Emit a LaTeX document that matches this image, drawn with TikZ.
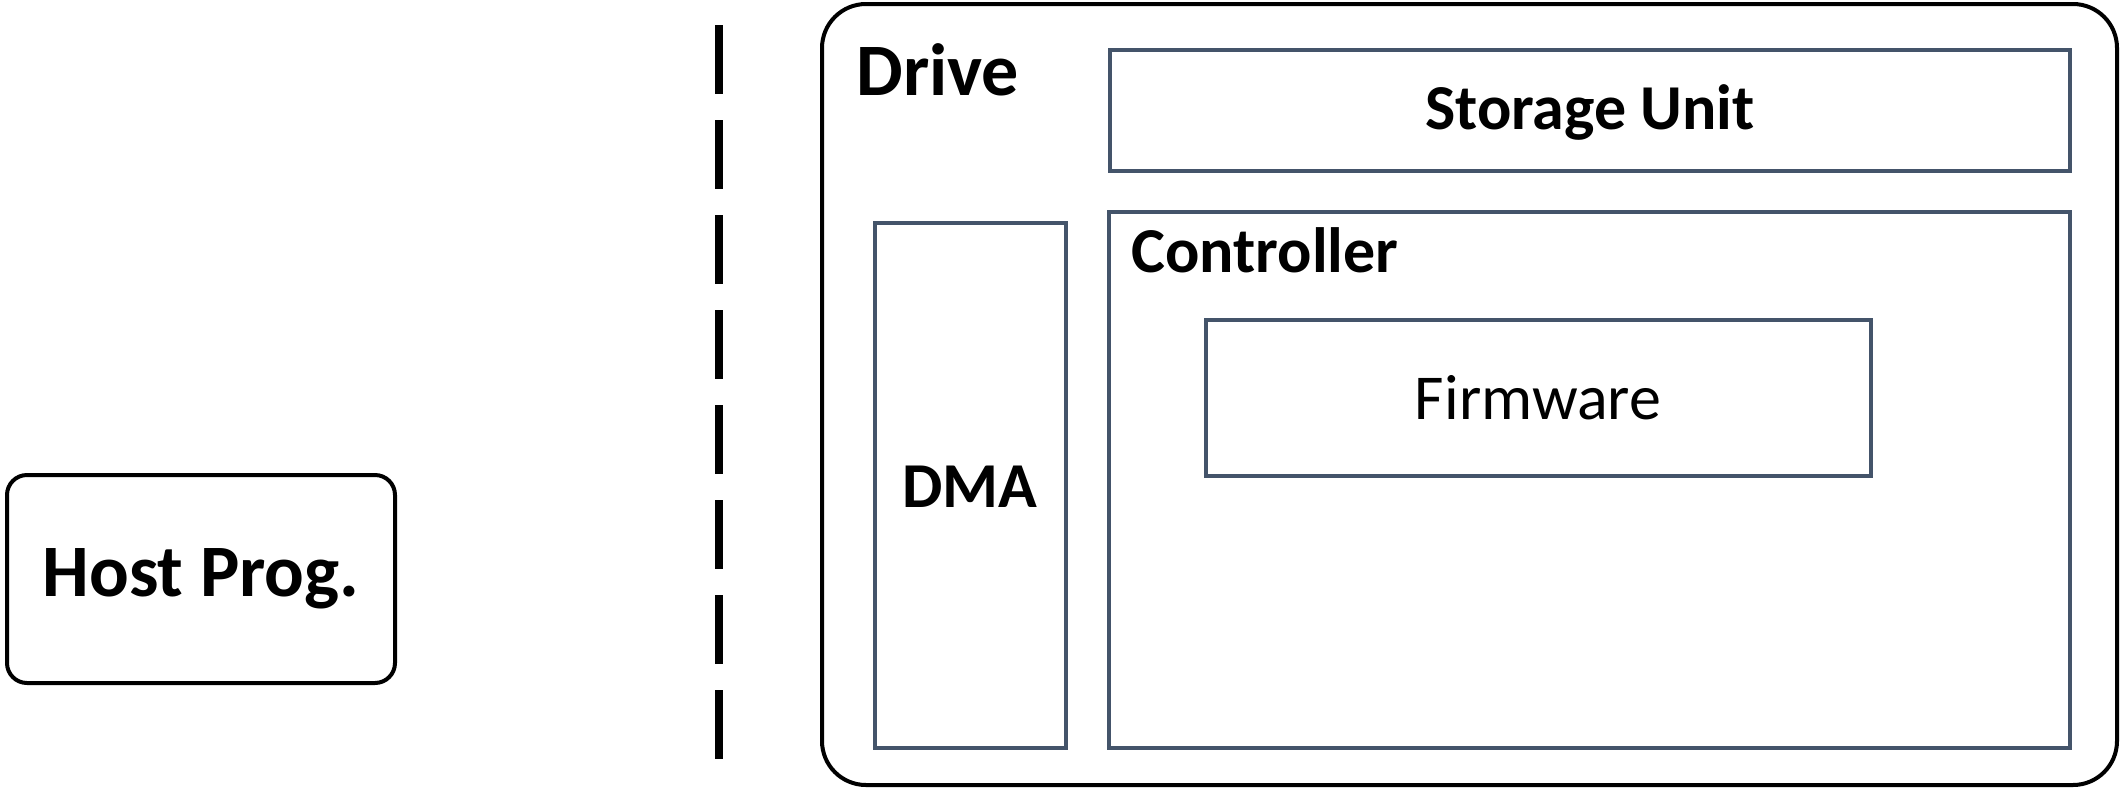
\documentclass[tikz,border=0pt]{standalone}
\usepackage{fontspec}
\setmainfont{Carlito}
\definecolor{slate}{HTML}{44546A}
\begin{document}
\begin{tikzpicture}[x=0.5pt,y=-0.5pt,
  outer/.style={draw=black,line width=2pt,rounded corners=10pt},
  inner/.style={draw=slate,line width=1.6pt},
  bigbold/.style={font=\fontsize{37}{40}\selectfont\bfseries},
  midbold/.style={font=\fontsize{32}{36}\selectfont\bfseries},
  midreg/.style={font=\fontsize{32}{36}\selectfont}]
\useasboundingbox (0,0) rectangle (2121,788);
% Host
\draw[outer] (7,475) rectangle (395,683);
\node[bigbold] (host) at (201,579) {Host Prog.};
% dashed separator
\coordinate (sepA) at (719,25);
\coordinate (sepB) at (719,759);
\draw[line width=4pt,dash pattern=on 34.5pt off 13pt] (sepA) -- (sepB);
% Drive
\draw[outer,rounded corners=22pt] (822,4) rectangle (2117,785);
\node[bigbold,anchor=base west,inner sep=0pt] (drive) at (856,95) {Drive};
% Storage unit
\draw[inner] (1110,50) rectangle (2070,171);
\node[midbold] (storage) at (1590,112) {Storage Unit};
% DMA
\draw[inner] (875,223) rectangle (1066,748);
\node[midbold] (dma) at (970,487) {DMA};
% Controller
\draw[inner] (1109,212) rectangle (2070,748);
\node[midbold,anchor=base west,inner sep=0pt] (ctrl) at (1131,272) {Controller};
% Firmware
\draw[inner] (1206,320) rectangle (1871,476);
\node[midreg] (fw) at (1538,398) {Firmware};
\end{tikzpicture}
\end{document}
